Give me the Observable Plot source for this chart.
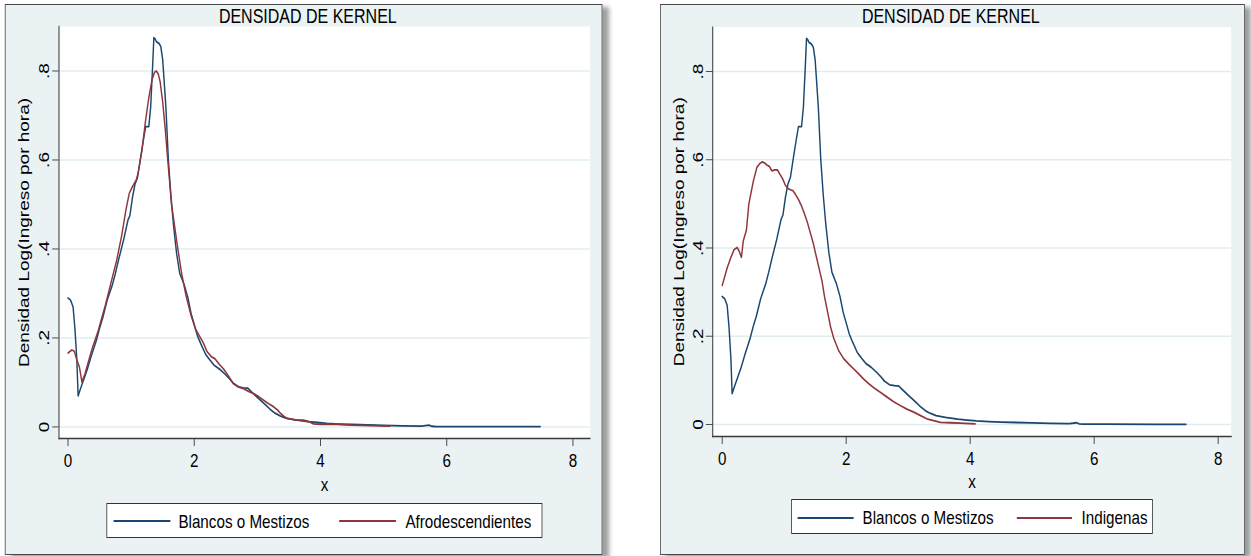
<!DOCTYPE html>
<html>
<head>
<meta charset="utf-8">
<script src="https://cdn.jsdelivr.net/npm/d3@7"></script>
<script src="https://cdn.jsdelivr.net/npm/@observablehq/plot@0.6"></script>
<style>
html, body { margin: 0; padding: 0; background: #ffffff; width: 1251px; height: 556px; overflow: hidden; }
#stage { position: absolute; left: 0; top: 0; width: 1564px; height: 556px; transform: scaleX(0.8); transform-origin: 0 0; font-family: "Liberation Sans", Arial, sans-serif; }
.panel { position: absolute; box-sizing: border-box; background: #eaf2f3; border: 1px solid #4a4a4a; box-shadow: 8px 3px 5px rgba(0,0,0,0.38); }
.title { position: absolute; left: 0; text-align: center; font-size: 20px; line-height: 20px; color: #000; white-space: nowrap; }
.legend { position: absolute; box-sizing: border-box; background: #ffffff; border: 1px solid #333; }
.legend .sw { position: absolute; height: 2px; }
.legend .lt { position: absolute; font-size: 19px; line-height: 19px; color: #000; white-space: nowrap; }
.chart { position: absolute; left: 0; top: 0; }
</style>
</head>
<body>
<div id="stage"></div>
<script>
// ---- data ----
const xTicks = [0, 2, 4, 6, 8];
const yTicks = [0, 0.2, 0.4, 0.6, 0.8];
const titleText = "DENSIDAD DE KERNEL";
const yLabel = "Densidad Log(Ingreso por hora)";
const xLabel = "x";
const seriesNames = ["Blancos o Mestizos", "Afrodescendientes", "Indigenas"];
const seriesColors = ["#1a476f", "#90353b"];

const blancosX = [0, 0.04, 0.08, 0.11, 0.14, 0.16, 0.2, 0.25, 0.3, 0.37, 0.45, 0.5, 0.55, 0.62, 0.7, 0.75, 0.8, 0.88, 0.95, 0.98, 1.02, 1.06, 1.1, 1.16, 1.2, 1.23, 1.28, 1.31, 1.34, 1.36, 1.38, 1.4, 1.44, 1.47, 1.5, 1.55, 1.59, 1.63, 1.67, 1.72, 1.77, 1.84, 1.9, 1.95, 2.0, 2.05, 2.1, 2.18, 2.25, 2.32, 2.4, 2.5, 2.56, 2.62, 2.7, 2.78, 2.85, 2.9, 2.98, 3.05, 3.12, 3.2, 3.28, 3.36, 3.45, 3.6, 3.8, 3.95, 4.1, 4.3, 4.5, 4.75, 5.0, 5.3, 5.6, 5.72, 5.76, 5.82, 6.2, 7.0, 7.48];
const blancosY = [0.29, 0.285, 0.27, 0.22, 0.15, 0.07, 0.087, 0.107, 0.127, 0.16, 0.195, 0.222, 0.245, 0.285, 0.318, 0.345, 0.375, 0.42, 0.465, 0.475, 0.515, 0.545, 0.56, 0.615, 0.65, 0.675, 0.675, 0.72, 0.81, 0.875, 0.872, 0.866, 0.862, 0.855, 0.825, 0.72, 0.6, 0.52, 0.455, 0.39, 0.345, 0.32, 0.29, 0.255, 0.23, 0.205, 0.188, 0.163, 0.15, 0.138, 0.13, 0.117, 0.108, 0.098, 0.09, 0.088, 0.087, 0.08, 0.069, 0.06, 0.051, 0.04, 0.031, 0.025, 0.02, 0.016, 0.012, 0.01, 0.008, 0.0065, 0.0055, 0.0045, 0.0035, 0.0025, 0.002, 0.004, 0.0015, 0.001, 0.0008, 0.0005, 0.0005];

const afroX = [0, 0.06, 0.1, 0.14, 0.18, 0.22, 0.27, 0.32, 0.38, 0.48, 0.59, 0.69, 0.77, 0.85, 0.92, 0.97, 1.02, 1.08, 1.11, 1.17, 1.23, 1.28, 1.33, 1.37, 1.4, 1.43, 1.46, 1.5, 1.54, 1.58, 1.64, 1.7, 1.74, 1.8, 1.87, 1.95, 2.02, 2.08, 2.14, 2.2, 2.27, 2.33, 2.4, 2.46, 2.54, 2.62, 2.7, 2.78, 2.86, 2.94, 3.02, 3.1, 3.18, 3.26, 3.32, 3.37, 3.42, 3.47, 3.6, 3.73, 3.82, 3.89, 4.0, 4.26, 4.5, 4.79, 5.1];
const afroY = [0.166, 0.173, 0.17, 0.15, 0.135, 0.101, 0.12, 0.145, 0.175, 0.217, 0.273, 0.329, 0.374, 0.43, 0.49, 0.525, 0.54, 0.555, 0.57, 0.62, 0.69, 0.74, 0.78, 0.797, 0.8, 0.793, 0.775, 0.73, 0.67, 0.6, 0.5, 0.44, 0.4, 0.345, 0.295, 0.25, 0.22, 0.205, 0.19, 0.17, 0.158, 0.153, 0.14, 0.131, 0.115, 0.097, 0.09, 0.086, 0.08, 0.075, 0.068, 0.06, 0.052, 0.045, 0.038, 0.03, 0.024, 0.019, 0.016, 0.015, 0.012, 0.007, 0.006, 0.006, 0.004, 0.003, 0.002];

const indigX = [0, 0.04, 0.08, 0.13, 0.19, 0.24, 0.27, 0.31, 0.34, 0.39, 0.43, 0.5, 0.56, 0.61, 0.65, 0.69, 0.72, 0.76, 0.8, 0.85, 0.89, 0.93, 0.97, 1.02, 1.06, 1.1, 1.14, 1.18, 1.23, 1.28, 1.32, 1.37, 1.42, 1.47, 1.51, 1.56, 1.61, 1.65, 1.7, 1.75, 1.8, 1.88, 1.96, 2.04, 2.12, 2.2, 2.28, 2.36, 2.44, 2.55, 2.66, 2.76, 2.87, 2.98, 3.09, 3.2, 3.3, 3.41, 3.52, 3.68, 3.84, 4.08];
const indigY = [0.315, 0.335, 0.355, 0.375, 0.396, 0.401, 0.394, 0.379, 0.416, 0.44, 0.5, 0.55, 0.583, 0.592, 0.595, 0.592, 0.588, 0.585, 0.575, 0.577, 0.577, 0.567, 0.558, 0.542, 0.535, 0.532, 0.53, 0.522, 0.51, 0.495, 0.48, 0.46, 0.435, 0.41, 0.385, 0.355, 0.325, 0.29, 0.255, 0.22, 0.195, 0.167, 0.149, 0.137, 0.126, 0.115, 0.103, 0.093, 0.084, 0.073, 0.062, 0.052, 0.043, 0.035, 0.028, 0.02, 0.013, 0.009, 0.005, 0.004, 0.003, 0.0016];

// ---- helpers ----
const rows = (xs, ys) => xs.map((x, i) => ({x, y: ys[i]}));
const yFmt = d => d === 0 ? "0" : String(d).replace(/^0/, "");
const stage = document.getElementById("stage");

function makePanel(cfg) {
  const el = document.createElement("div");
  el.className = "panel";
  Object.assign(el.style, {left: cfg.left + "px", top: cfg.top + "px", width: cfg.width + "px", height: cfg.height + "px"});
  stage.appendChild(el);

  const chart = Plot.plot({
    width: cfg.svgW, height: cfg.svgH,
    marginLeft: cfg.ml, marginRight: cfg.mr, marginTop: cfg.mt, marginBottom: cfg.mb,
    style: {background: "transparent", overflow: "visible", maxWidth: "none", fontFamily: "'Liberation Sans', Arial, sans-serif"},
    x: {domain: cfg.xDomain},
    y: {domain: cfg.yDomain},
    marks: [
      Plot.frame({fill: "#ffffff", stroke: "none"}),
      Plot.gridY(yTicks, {stroke: "#e1ecef", strokeOpacity: 1, strokeWidth: 1.6}),
      Plot.frame({anchor: "left", stroke: "#3a3a3a", strokeWidth: 1.3}),
      Plot.frame({anchor: "bottom", stroke: "#3a3a3a", strokeWidth: 1.3}),
      Plot.axisY(yTicks, {tickSize: 8, tickRotate: -90, tickPadding: 4, tickFormat: yFmt, fontSize: 19,
        stroke: "#3a3a3a", fill: "#000", label: yLabel, labelAnchor: "center", labelArrow: "none", labelOffset: cfg.yLabelOffset}),
      Plot.axisX(xTicks, {tickSize: 8, tickPadding: 7, tickFormat: d => String(d), fontSize: 19,
        stroke: "#3a3a3a", fill: "#000", label: xLabel, labelAnchor: "center", labelArrow: "none", labelOffset: cfg.xLabelOffset}),
      Plot.line(rows(blancosX, blancosY), {x: "x", y: "y", stroke: seriesColors[0], strokeWidth: 1.8}),
      Plot.line(rows(cfg.otherX, cfg.otherY), {x: "x", y: "y", stroke: seriesColors[1], strokeWidth: 1.8})
    ]
  });
  chart.classList.add("chart");
  el.appendChild(chart);

  const t = document.createElement("div");
  t.className = "title";
  t.textContent = titleText;
  t.style.width = (2 * cfg.titleCenter) + "px";
  t.style.top = cfg.titleTop + "px";
  el.appendChild(t);

  const lg = document.createElement("div");
  lg.className = "legend";
  Object.assign(lg.style, {left: cfg.lg.left + "px", top: cfg.lg.top + "px", width: cfg.lg.width + "px", height: cfg.lg.height + "px"});
  el.appendChild(lg);
  cfg.lg.items.forEach((it, i) => {
    const sw = document.createElement("div");
    sw.className = "sw";
    Object.assign(sw.style, {left: it.lineLeft + "px", width: it.lineWidth + "px", top: (cfg.lg.lineY - 1) + "px", background: seriesColors[i]});
    lg.appendChild(sw);
    const tx = document.createElement("span");
    tx.className = "lt";
    tx.textContent = it.name;
    Object.assign(tx.style, {left: it.textLeft + "px", top: (cfg.lg.baseline - 16) + "px"});
    lg.appendChild(tx);
  });
}

makePanel({
  left: 6.25, top: 4, width: 746.25, height: 551,
  svgW: 744, svgH: 490, ml: 66.25, mr: 14, mt: 21, mb: 57,
  xDomain: [-0.143, 8.27], yDomain: [-0.026, 0.900],
  yLabelOffset: 51, xLabelOffset: 52,
  otherX: afroX, otherY: afroY,
  titleCenter: 377.5, titleTop: 1,
  lg: {left: 126, top: 497.5, width: 545, height: 35, lineY: 17.5, baseline: 24,
    items: [
      {name: seriesNames[0], lineLeft: 7.5, lineWidth: 71, textLeft: 88.75},
      {name: seriesNames[1], lineLeft: 290, lineWidth: 71, textLeft: 372.5}
    ]}
});

makePanel({
  left: 825, top: 4, width: 731.25, height: 551,
  svgW: 729, svgH: 490, ml: 64.4, mr: 16.5, mt: 21.6, mb: 59,
  xDomain: [-0.153, 8.21], yDomain: [-0.0272, 0.9006],
  yLabelOffset: 49.5, xLabelOffset: 51.5,
  otherX: indigX, otherY: indigY,
  titleCenter: 362.5, titleTop: 1,
  lg: {left: 162.5, top: 494, width: 452.5, height: 35, lineY: 17.7, baseline: 24.3,
    items: [
      {name: seriesNames[0], lineLeft: 7.5, lineWidth: 70, textLeft: 88.75},
      {name: seriesNames[2], lineLeft: 281, lineWidth: 69, textLeft: 362.5}
    ]}
});
</script>
</body>
</html>
